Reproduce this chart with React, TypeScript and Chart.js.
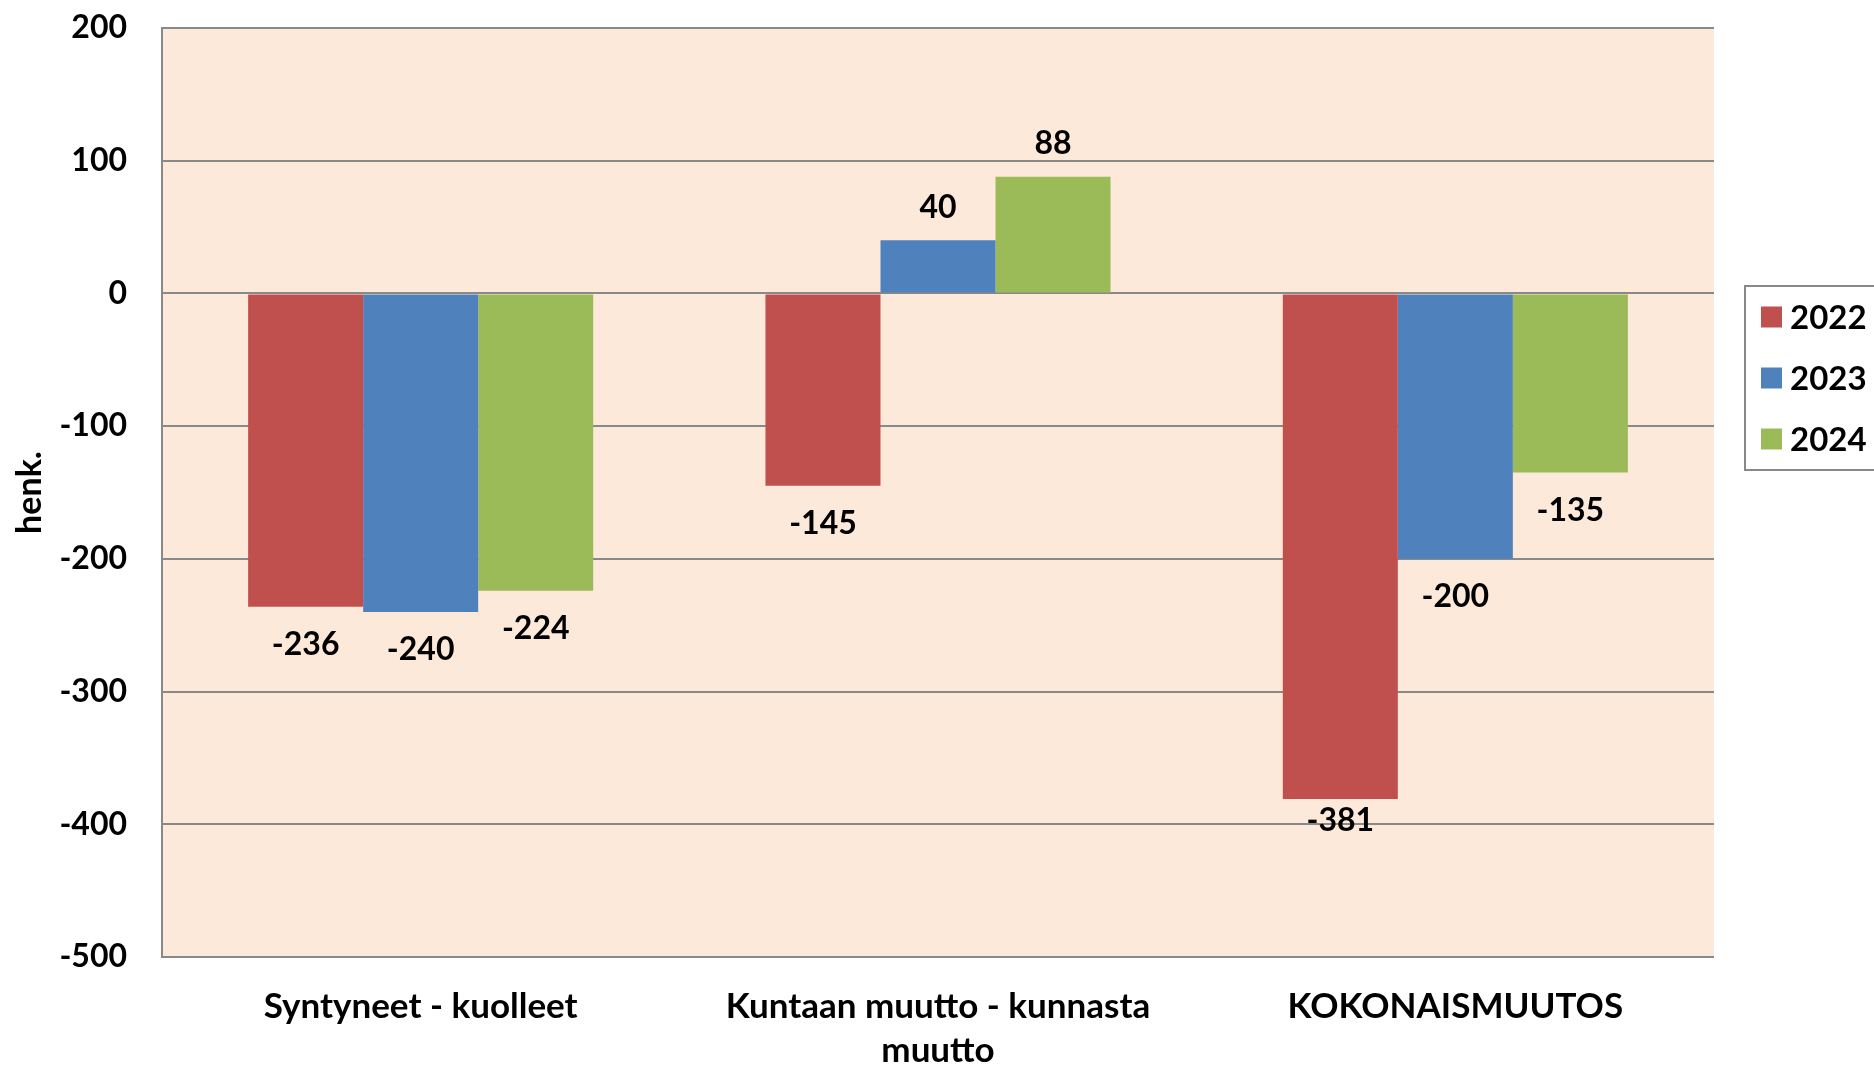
import React, { useEffect, useRef } from "react";
import { Chart, registerables } from "chart.js";

Chart.register(...registerables);

const categories: (string | string[])[] = [
  "Syntyneet - kuolleet",
  ["Kuntaan muutto - kunnasta", "muutto"],
  "KOKONAISMUUTOS",
];
const seriesNames = ["2022", "2023", "2024"];
const values2022 = [-236, -145, -381];
const values2023 = [-240, 40, -200];
const values2024 = [-224, 88, -135];
const yTicks = [200, 100, 0, -100, -200, -300, -400, -500];
const yTitle = "henk.";

const COLORS = ["#C0504D", "#4F81BD", "#9BBB59"];
const FONT = "Lato, 'Noto Sans', sans-serif";
const GRID = "#898989";

const bgPlugin = {
  id: "plotBg",
  beforeDraw(chart: any) {
    const { ctx, chartArea: a } = chart;
    ctx.save();
    ctx.fillStyle = "#FDE9D9";
    ctx.fillRect(a.left, a.top, a.right - a.left, a.bottom - a.top);
    ctx.restore();
  },
};

const labelPlugin = {
  id: "barLabels",
  afterDatasetsDraw(chart: any) {
    const { ctx } = chart;
    ctx.save();
    ctx.font = `bold 32px ${FONT}`;
    ctx.fillStyle = "#000";
    ctx.textAlign = "center";
    ctx.textBaseline = "middle";
    chart.data.datasets.forEach((ds: any, di: number) => {
      const meta = chart.getDatasetMeta(di);
      meta.data.forEach((bar: any, i: number) => {
        const v = ds.data[i];
        // Excel places the deepest label slightly closer to the bar end
        const below = v < -350 ? 22 : 38;
        const y = v >= 0 ? bar.y - 33 : bar.y + below;
        ctx.fillText(String(v), bar.x, y);
      });
    });
    ctx.restore();
  },
};

const legendPlugin = {
  id: "boxLegend",
  afterDraw(chart: any) {
    const { ctx } = chart;
    ctx.save();
    ctx.strokeStyle = GRID;
    ctx.lineWidth = 2;
    ctx.strokeRect(1745, 286, 200, 184);
    ctx.font = `bold 33px ${FONT}`;
    ctx.textAlign = "left";
    ctx.textBaseline = "middle";
    chart.data.datasets.forEach((ds: any, i: number) => {
      const cy = 317 + i * 61;
      ctx.fillStyle = ds.backgroundColor;
      ctx.fillRect(1761, cy - 10.5, 21, 21);
      ctx.fillStyle = "#000";
      ctx.fillText(ds.label, 1790, cy + 1);
    });
    ctx.restore();
  },
};

export default function App() {
  const ref = useRef<HTMLCanvasElement | null>(null);
  useEffect(() => {
    if (!ref.current) return;
    const chart = new Chart(ref.current, {
      type: "bar",
      data: {
        labels: categories as any,
        datasets: [values2022, values2023, values2024].map((d, i) => ({
          label: seriesNames[i],
          data: d,
          backgroundColor: COLORS[i],
          borderWidth: 0,
          categoryPercentage: 0.667,
          barPercentage: 1.0,
        })),
      },
      options: {
        animation: false,
        responsive: false,
        maintainAspectRatio: false,
        layout: { padding: { left: 0, top: 28, right: 160, bottom: 0 } },
        plugins: {
          legend: { display: false },
          tooltip: { enabled: false },
        },
        scales: {
          x: {
            grid: { display: false, drawTicks: false },
            border: { display: false },
            ticks: {
              color: "#000",
              font: { family: FONT, size: 35, weight: "bold", lineHeight: 1.26 },
              padding: 28,
              maxRotation: 0,
              autoSkip: false,
            },
            afterFit(scale: any) {
              scale.height = 109;
            },
          },
          y: {
            min: -500,
            max: 200,
            afterBuildTicks(scale: any) {
              scale.ticks = yTicks.map((v) => ({ value: v }));
            },
            grid: { color: GRID, lineWidth: 2, drawTicks: false },
            border: { display: true, color: GRID, width: 2 },
            ticks: {
              color: "#000",
              font: { family: FONT, size: 32, weight: "bold" },
              padding: 35,
            },
            title: {
              display: true,
              text: yTitle,
              color: "#000",
              font: { family: FONT, size: 34, weight: "bold" },
              padding: { top: 10, bottom: 0 },
            },
            afterFit(scale: any) {
              scale.width = 162;
              scale.paddingTop = 10;
              scale.paddingBottom = 10;
            },
          },
        },
      },
      plugins: [bgPlugin, labelPlugin, legendPlugin],
    });
    return () => chart.destroy();
  }, []);
  return (
    <div style={{ position: "absolute", left: 0, top: 0, width: 1874, height: 1066 }}>
      <canvas ref={ref} width={1874} height={1066} style={{ width: 1874, height: 1066 }} />
    </div>
  );
}
